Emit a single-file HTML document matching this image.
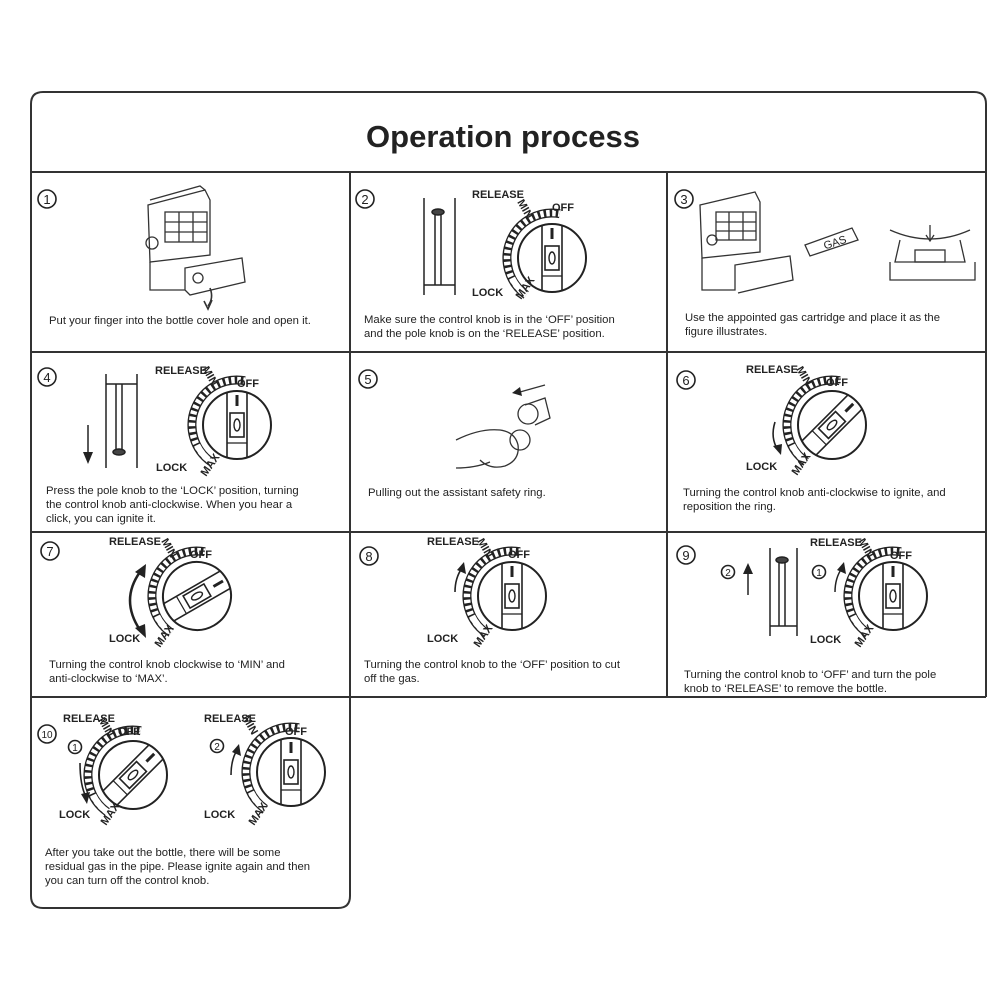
<!DOCTYPE html>
<html><head><meta charset="utf-8"><style>
html,body{margin:0;padding:0;background:#fff;}
svg{display:block;}
text{font-family:"Liberation Sans",Arial,sans-serif;fill:#222;}
.t{font-size:11.3px;}
.b{font-size:11px;font-weight:bold;}
.n{font-size:15px;}
</style></head><body>
<svg width="1000" height="1000" viewBox="0 0 1000 1000" xmlns="http://www.w3.org/2000/svg">
<defs>
<g id="ring">
 <path d="M-25.8,36.9 A45,45 0 0 1 7.8,-44.3" fill="none" stroke="#222" stroke-width="9"/>
 <path d="M-25.8,36.9 A45,45 0 0 1 7.8,-44.3" fill="none" stroke="#fff" stroke-width="6.4" stroke-dasharray="3.5 2.5"/>
 <path d="M-25.8,36.9 A45,45 0 0 1 -40,20" fill="none" stroke="#fff" stroke-width="6.4"/>
</g>
<g id="body">
 <circle r="34" fill="#fff" stroke="#222" stroke-width="2"/>
 <line x1="-10" y1="-32" x2="-10" y2="32" stroke="#222" stroke-width="1.6"/>
 <line x1="10" y1="-32" x2="10" y2="32" stroke="#222" stroke-width="1.6"/>
 <line x1="0" y1="-30" x2="0" y2="-19" stroke="#222" stroke-width="3"/>
 <rect x="-7" y="-12" width="14" height="24" fill="none" stroke="#222" stroke-width="1.6"/>
 <ellipse cx="0" cy="0" rx="3" ry="6" fill="none" stroke="#222" stroke-width="1.4"/>
 <line x1="-10" y1="18" x2="10" y2="18" stroke="#222" stroke-width="1.2"/>
</g>
</defs>

<!-- frame -->
<path d="M31,697 V104 Q31,92 43,92 H974 Q986,92 986,104 V697" fill="none" stroke="#333" stroke-width="2"/>
<path d="M31,697 V896 Q31,908 43,908 H338 Q350,908 350,896 V697" fill="none" stroke="#333" stroke-width="2"/>
<line x1="31" y1="172" x2="986" y2="172" stroke="#333" stroke-width="2"/>
<line x1="31" y1="352" x2="986" y2="352" stroke="#333" stroke-width="2"/>
<line x1="31" y1="532" x2="986" y2="532" stroke="#333" stroke-width="2"/>
<line x1="31" y1="697" x2="986" y2="697" stroke="#333" stroke-width="2"/>
<line x1="350" y1="172" x2="350" y2="697" stroke="#333" stroke-width="2"/>
<line x1="667" y1="172" x2="667" y2="697" stroke="#333" stroke-width="2"/>

<text x="503" y="147" text-anchor="middle" style="font-size:31px;font-weight:bold;fill:#222">Operation process</text>

<!-- step numbers -->
<g fill="none" stroke="#222" stroke-width="1.6">
<circle cx="47" cy="199" r="9"/><circle cx="365" cy="199" r="9"/><circle cx="684" cy="199" r="9"/>
<circle cx="47" cy="377" r="9"/><circle cx="368" cy="379" r="9"/><circle cx="686" cy="380" r="9"/>
<circle cx="50" cy="551" r="9"/><circle cx="369" cy="556" r="9"/><circle cx="686" cy="555" r="9"/>
<circle cx="47" cy="734" r="9"/>
<circle cx="728" cy="572" r="6.5"/><circle cx="819" cy="572" r="6.5"/>
<circle cx="75" cy="747" r="6.5"/><circle cx="217" cy="746" r="6.5"/>
</g>
<g class="n" text-anchor="middle" style="font-size:13px">
<text x="47" y="204">1</text><text x="365" y="204">2</text><text x="684" y="204">3</text>
<text x="47" y="382">4</text><text x="368" y="384">5</text><text x="686" y="385">6</text>
<text x="50" y="556">7</text><text x="369" y="561">8</text><text x="686" y="560">9</text>
<text x="47" y="738" style="font-size:10px">10</text>
<text x="728" y="576" style="font-size:10px">2</text><text x="819" y="576" style="font-size:10px">1</text>
<text x="75" y="751" style="font-size:10px">1</text><text x="217" y="750" style="font-size:10px">2</text>
</g>

<!-- panel 1 heater -->
<g fill="none" stroke="#333" stroke-width="1.3">
<path d="M148,205 L205,190 L210,200 L210,255 L150,262 Z"/>
<path d="M150,200 L200,186 L205,190"/>
<rect x="165" y="212" width="42" height="30"/>
<path d="M165,222 H207 M165,232 H207 M179,212 V242 M193,212 V242"/>
<circle cx="152" cy="243" r="6"/>
<path d="M150,262 L150,290 L185,290 L185,268 L242,258 L245,282 L190,295 L185,290"/>
<circle cx="198" cy="278" r="5"/>
<path d="M210,288 Q214,298 208,306" stroke-width="1.6"/>
<path d="M204,301 L208,309 L212,300" stroke-width="1.6"/>
</g>
<text class="t" x="49" y="324">Put your finger into the bottle cover hole and open it.</text>

<!-- panel 2 -->
<g stroke="#222" stroke-width="1.5" fill="none">
<path d="M424,198 V295 M455,198 V295 M424,285 H455 M435,212 V285 M441,212 V285"/>
<ellipse cx="438" cy="212" rx="6" ry="3" fill="#444"/>
</g>
<use href="#ring" x="552" y="258"/><use href="#body" x="552" y="258"/>
<text class="b" x="472" y="198">RELEASE</text>
<text class="b" x="552" y="211">OFF</text>
<text class="b" x="472" y="296">LOCK</text>
<text class="b" transform="translate(521,300) rotate(-55)">MAX</text>
<text class="b" transform="translate(517,202) rotate(60)">MIN</text>
<text class="t" x="364" y="323">Make sure the control knob is in the ‘OFF’ position</text>
<text class="t" x="364" y="337">and the pole knob is on the ‘RELEASE’ position.</text>

<!-- panel 3 -->
<g fill="none" stroke="#333" stroke-width="1.3">
<path d="M700,205 L755,192 L760,202 L760,252 L702,258 Z"/>
<rect x="716" y="212" width="40" height="28"/>
<path d="M716,222 H756 M716,231 H756 M729,212 V240 M743,212 V240"/>
<path d="M702,258 L702,290 L735,290 L735,265 L790,256 L793,280 L738,293"/>
<circle cx="712" cy="240" r="5"/>
<path d="M805,245 L852,228 L858,240 L810,256 Z"/>
<path d="M890,230 Q930,248 970,230 M900,240 L895,262 H965 L960,240 M890,262 V280 H975 V262"/>
<rect x="915" y="250" width="30" height="12"/>
<path d="M930,225 V240 M926,235 L930,241 L934,235"/>
</g>
<text x="823" y="247" transform="rotate(-18 832 242)" style="font-size:11px">GAS</text>
<text class="t" x="685" y="321">Use the appointed gas cartridge and place it as the</text>
<text class="t" x="685" y="335">figure illustrates.</text>

<!-- panel 4 -->
<g stroke="#222" stroke-width="1.5" fill="none">
<path d="M106,374 V468 M137,374 V468 M106,384 H137 M116,384 V452 M122,384 V452"/>
<ellipse cx="119" cy="452" rx="6" ry="3" fill="#444"/>
<path d="M88,425 V458"/>
</g>
<path d="M83,452 L88,464 L93,452 Z" fill="#222"/>
<use href="#ring" x="237" y="425"/><use href="#body" x="237" y="425"/>
<text class="b" x="155" y="374">RELEASE</text>
<text class="b" x="237" y="387">OFF</text>
<text class="b" x="156" y="471">LOCK</text>
<text class="b" transform="translate(206,477) rotate(-55)">MAX</text>
<text class="b" transform="translate(202,369) rotate(60)">MIN</text>
<text class="t" x="46" y="494">Press the pole knob to the ‘LOCK’ position, turning</text>
<text class="t" x="46" y="508">the control knob anti-clockwise. When you hear a</text>
<text class="t" x="46" y="522">click, you can ignite it.</text>

<!-- panel 5 -->
<g fill="none" stroke="#333" stroke-width="1.3">
<path d="M456,440 Q480,428 500,430 Q515,432 518,445 Q520,460 505,466 Q490,470 480,460 M456,468 Q475,468 490,462"/>
<circle cx="520" cy="440" r="10"/><circle cx="528" cy="414" r="10"/>
<path d="M525,405 L545,398 L550,418 L535,425"/>
<path d="M545,385 L520,392"/>
</g>
<path d="M520,387 L512,393 L522,396 Z" fill="#222"/>
<text class="t" x="368" y="496">Pulling out the assistant safety ring.</text>

<!-- panel 6 -->
<use href="#ring" x="832" y="425"/><use href="#body" transform="translate(832,425) rotate(45)"/>
<text class="b" x="746" y="373">RELEASE</text>
<text class="b" x="826" y="386">OFF</text>
<text class="b" x="746" y="470">LOCK</text>
<text class="b" transform="translate(797,476) rotate(-55)">MAX</text>
<text class="b" transform="translate(796,369) rotate(60)">MIN</text>
<path d="M775,422 Q770,438 778,450" fill="none" stroke="#222" stroke-width="1.6"/>
<path d="M773,446 L781,455 L782,444 Z" fill="#222"/>
<text class="t" x="683" y="496">Turning the control knob anti-clockwise to ignite, and</text>
<text class="t" x="683" y="510">reposition the ring.</text>

<!-- panel 7 -->
<use href="#ring" x="197" y="596"/><use href="#body" transform="translate(197,596) rotate(60)"/>
<text class="b" x="109" y="545">RELEASE</text>
<text class="b" x="190" y="558">OFF</text>
<text class="b" x="109" y="642">LOCK</text>
<text class="b" transform="translate(160,648) rotate(-55)">MAX</text>
<text class="b" transform="translate(161,541) rotate(60)">MIN</text>
<path d="M140,572 Q120,600 140,630" fill="none" stroke="#222" stroke-width="2.5"/>
<path d="M135,572 L146,564 L145,578 Z" fill="#222"/>
<path d="M135,628 L146,638 L145,624 Z" fill="#222"/>
<text class="t" x="49" y="668">Turning the control knob clockwise to ‘MIN’ and</text>
<text class="t" x="49" y="682">anti-clockwise to ‘MAX’.</text>

<!-- panel 8 -->
<use href="#ring" x="512" y="596"/><use href="#body" x="512" y="596"/>
<text class="b" x="427" y="545">RELEASE</text>
<text class="b" x="508" y="558">OFF</text>
<text class="b" x="427" y="642">LOCK</text>
<text class="b" transform="translate(479,648) rotate(-55)">MAX</text>
<text class="b" transform="translate(477,541) rotate(60)">MIN</text>
<path d="M455,592 Q455,578 462,568" fill="none" stroke="#222" stroke-width="1.6"/>
<path d="M457,570 L464,562 L466,574 Z" fill="#222"/>
<text class="t" x="364" y="668">Turning the control knob to the ‘OFF’ position to cut</text>
<text class="t" x="364" y="682">off the gas.</text>

<!-- panel 9 -->
<g stroke="#222" stroke-width="1.5" fill="none">
<path d="M770,548 V636 M797,548 V636 M770,626 H797 M779,560 V626 M785,560 V626"/>
<ellipse cx="782" cy="560" rx="6" ry="3" fill="#444"/>
<path d="M748,595 V570"/>
<path d="M835,592 Q835,578 842,568"/>
</g>
<path d="M743,574 L748,563 L753,574 Z" fill="#222"/>
<path d="M837,570 L844,562 L846,574 Z" fill="#222"/>
<use href="#ring" x="893" y="596"/><use href="#body" x="893" y="596"/>
<text class="b" x="810" y="546">RELEASE</text>
<text class="b" x="890" y="559">OFF</text>
<text class="b" x="810" y="643">LOCK</text>
<text class="b" transform="translate(860,648) rotate(-55)">MAX</text>
<text class="b" transform="translate(858,541) rotate(60)">MIN</text>
<text class="t" x="684" y="678">Turning the control knob to ‘OFF’ and turn the pole</text>
<text class="t" x="684" y="692">knob to ‘RELEASE’ to remove the bottle.</text>

<!-- panel 10 -->
<use href="#ring" x="133" y="775"/><use href="#body" transform="translate(133,775) rotate(45)"/>
<text class="b" x="63" y="722">RELEASE</text>
<text class="b" x="118" y="735">OFF</text>
<text class="b" x="59" y="818">LOCK</text>
<text class="b" transform="translate(106,826) rotate(-55)">MAX</text>
<text class="b" transform="translate(98,720) rotate(60)">MIN</text>
<path d="M80,763 Q80,785 86,797" fill="none" stroke="#222" stroke-width="1.6"/>
<path d="M81,794 L87,804 L90,792 Z" fill="#222"/>
<use href="#ring" x="291" y="772"/><use href="#body" x="291" y="772"/>
<text class="b" x="204" y="722">RELEASE</text>
<text class="b" x="285" y="735">OFF</text>
<text class="b" x="204" y="818">LOCK</text>
<text class="b" transform="translate(254,826) rotate(-55)">MAX</text>
<text class="b" transform="translate(242,718) rotate(60)">MIN</text>
<path d="M231,775 Q231,760 237,750" fill="none" stroke="#222" stroke-width="1.6"/>
<path d="M232,752 L239,744 L241,756 Z" fill="#222"/>
<text class="t" x="45" y="856">After you take out the bottle, there will be some</text>
<text class="t" x="45" y="870">residual gas in the pipe. Please ignite again and then</text>
<text class="t" x="45" y="884">you can turn off the control knob.</text>
</svg>
</body></html>
